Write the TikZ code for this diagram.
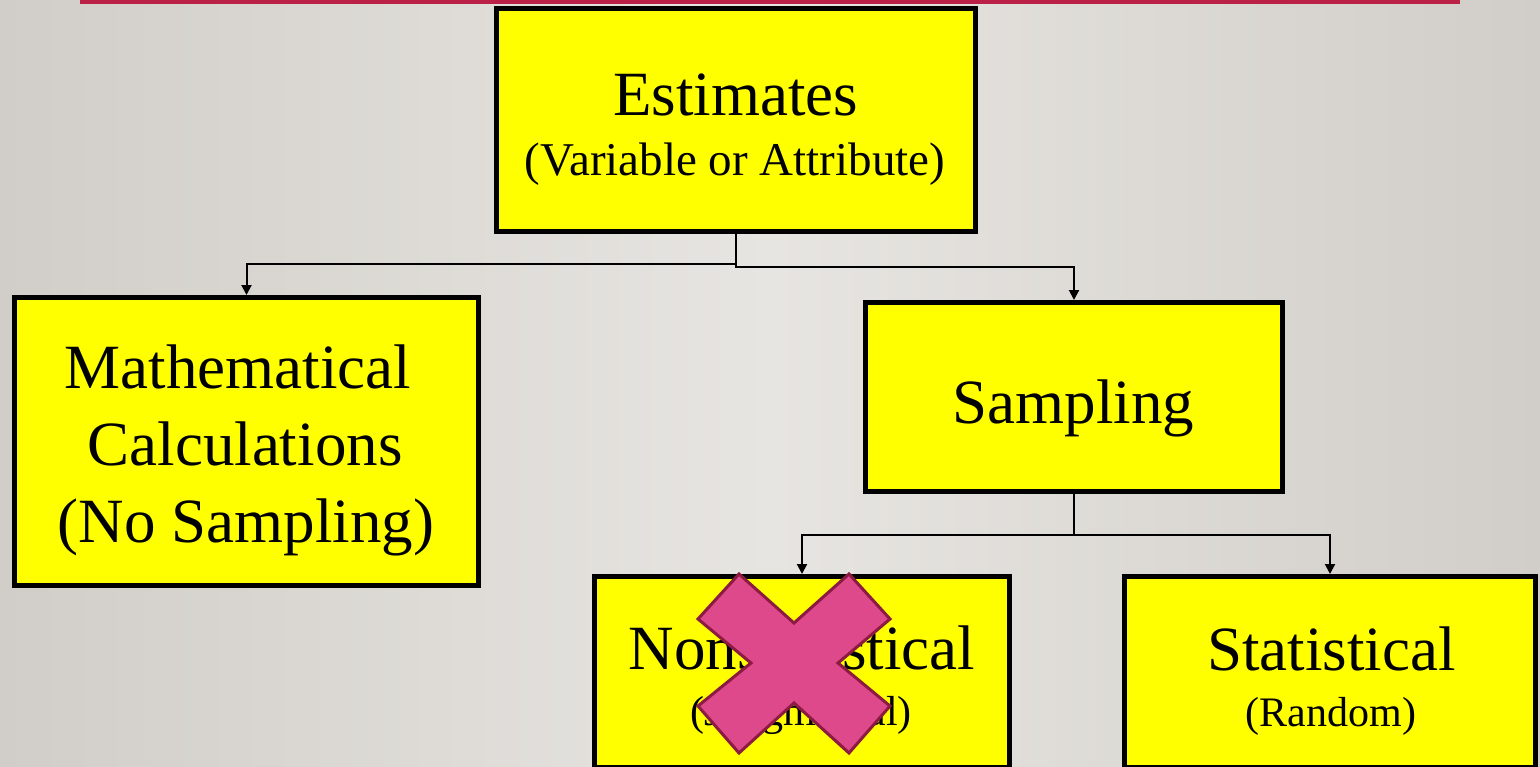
\documentclass[tikz,border=0pt]{standalone}
\usepackage{fontspec}
\setmainfont{Liberation Serif}
\usepackage{tikz}
\usetikzlibrary{arrows.meta}

\definecolor{bgmid}{RGB}{231,229,225}
\definecolor{bgedge}{RGB}{209,206,201}
\definecolor{topbar}{RGB}{187,33,70}
\definecolor{boxfill}{RGB}{255,255,0}
\definecolor{crossfill}{RGB}{221,73,139}
\definecolor{crossline}{RGB}{140,26,66}

\newcommand{\bigtxt}{\fontsize{63}{77}\selectfont}
\newcommand{\midtxt}{\fontsize{47}{56}\selectfont}
\newcommand{\smalltxt}{\fontsize{42}{50}\selectfont}

\tikzset{
  box/.style={draw=black, fill=boxfill, line width=5pt, inner sep=0pt},
  txt/.style={anchor=base, inner sep=0pt, font=\bigtxt},
  conn/.style={draw=black, line width=2pt, -{Triangle[length=10pt,width=10pt]}}
}

\begin{document}
\begin{tikzpicture}[x=1pt,y=-1pt]
\clip (0,0) rectangle (1540,766);
\shade[left color=bgedge, right color=bgedge, middle color=bgmid] (0,0) rectangle (1540,766);
\fill[topbar] (80,0) rectangle (1460,4);

\node[box, minimum width=479pt, minimum height=223pt] (est) at (736,120) {};
\node[box, minimum width=464pt, minimum height=288pt] (math) at (246.5,441.5) {};
\node[box, minimum width=417pt, minimum height=189pt] (samp) at (1074,397) {};
\node[box, minimum width=415pt, minimum height=191pt] (nonstat) at (802,672) {};
\node[box, minimum width=411pt, minimum height=191pt] (stat) at (1330,672) {};

\node[txt] (estA) at (735.5,115) {Estimates};
\node[txt, font=\midtxt] (estB) at (735,175) {(Variable or Attribute)};
\node[txt] (mathA) at (238,388) {Mathematical};
\node[txt] (mathB) at (245,465) {Calculations};
\node[txt] (mathC) at (246,542) {(No Sampling)};
\node[txt] (sampA) at (1073.5,423) {Sampling};
\node[txt] (nonstatA) at (802,669) {Nonstatistical};
\node[txt, font=\smalltxt] (nonstatB) at (801,725) {(Judgmental)};
\node[txt] (statA) at (1331.5,670) {Statistical};
\node[txt, font=\smalltxt] (statB) at (1331,726) {(Random)};

\draw[conn] (est.south) -- ++(0,30) -| (math.north);
\draw[conn] (est.south) -- ++(0,33) -| (samp.north);
\draw[conn] (samp.south) -- ++(0,41) -| (nonstat.north);
\draw[conn] (samp.south) -- ++(0,41) -| (stat.north);

\filldraw[fill=crossfill, draw=crossline, line width=3pt, line join=miter]
  (739,574) -- (794,623) -- (849,574) -- (890,619) -- (838,663) -- (890,706)
  -- (849,753) -- (794,703) -- (739,753) -- (698,706) -- (751,663) -- (698,619) -- cycle;
\end{tikzpicture}
\end{document}
